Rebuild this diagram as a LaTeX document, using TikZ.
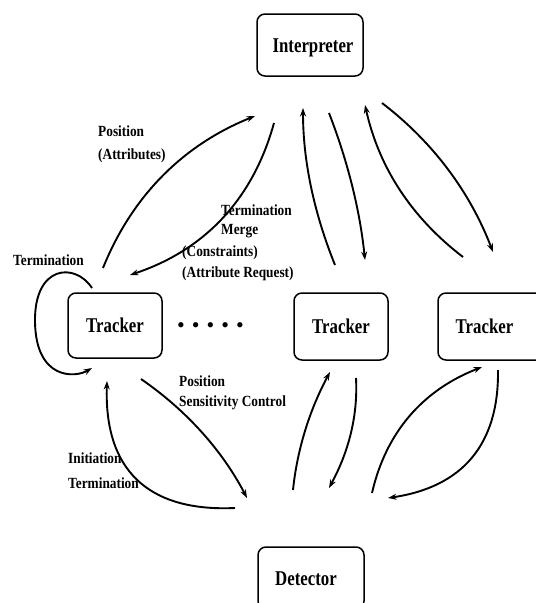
\documentclass[tikz,border=0pt]{standalone}
\usepackage{fontspec}
\setmainfont{Liberation Serif}
\newfontfamily\boxfont[FakeStretch=0.8]{Liberation Serif}
\newfontfamily\lblfont[FakeStretch=0.86]{Liberation Serif}
\usetikzlibrary{arrows.meta}
\begin{document}
\begin{tikzpicture}[x=1pt,y=-1pt,
  box/.style={draw, line width=1.5pt, rounded corners=8pt, inner sep=0pt,
    font=\boxfont\bfseries\fontsize{21}{24}\selectfont, text height=14pt, text depth=0pt},
  lbl/.style={font=\lblfont\bfseries\fontsize{15.5}{21}\selectfont, inner sep=0pt, anchor=base west},
  flow/.style={line width=1.9pt, -{Stealth[length=8.5pt,width=6pt]}},
]
\useasboundingbox (0,0) rectangle (536,603);
\clip (0,0) rectangle (536,603);

% boxes
\node[box, minimum width=106pt, minimum height=62pt] (interp) at (310,45) {\hspace*{6pt}Interpreter};
\node[box, minimum width=94pt, minimum height=65pt] (trk1) at (115,325.5) {Tracker};
\node[box, minimum width=94pt, minimum height=67pt] (trk2) at (341,326.5) {Tracker};
\node[box, minimum width=107pt, minimum height=67pt] (trk3) at (491.5,326.5) {Tracker\hspace*{14pt}};
\node[box, minimum width=106pt, minimum height=62pt] (det) at (311,578) {Detector\hspace*{10pt}};
\node[font=\fontsize{22}{24}\selectfont, inner sep=0pt] (dots) at (210.5,328)
  {•\hspace{7pt}•\hspace{7pt}•\hspace{7pt}•\hspace{7pt}•};

% connector end points
\coordinate (s1) at (103,268);  \coordinate (e1) at (255,116);
\coordinate (s2) at (274,123);  \coordinate (e2) at (130,275);
\coordinate (s3) at (335,265);  \coordinate (e3) at (303,108);
\coordinate (s4) at (329,113);  \coordinate (e4) at (365,260);
\coordinate (s5) at (463,257);  \coordinate (e5) at (365,105);
\coordinate (s6) at (382,103);  \coordinate (e6) at (493,252);
\coordinate (s0) at (92,288);   \coordinate (m0) at (35,322);  \coordinate (e0) at (92,368);
\coordinate (s7) at (235,508);  \coordinate (e7) at (107,381);
\coordinate (s8) at (141,379);  \coordinate (e8) at (247,498);
\coordinate (s9) at (293,490);  \coordinate (e9) at (330,372);
\coordinate (s10) at (356,378); \coordinate (e10) at (329,488);
\coordinate (s11) at (372,493); \coordinate (e11) at (482,367);
\coordinate (s12) at (498,370); \coordinate (e12) at (388,498);

% tracker <-> interpreter
\draw[flow] (s1) .. controls (132,196) and (183,145) .. (e1);
\draw[flow] (s2) .. controls (253,199) and (205,250) .. (e2);
\draw[flow] (s3) .. controls (314,213) and (303,161) .. (e3);
\draw[flow] (s4) .. controls (348,162) and (360,211) .. (e4);
\draw[flow] (s5) .. controls (412,218) and (379,168) .. (e5);
\draw[flow] (s6) .. controls (433,142) and (470,192) .. (e6);
% self loop
\draw[flow] (s0) .. controls (75,262) and (34,265) .. (m0) .. controls (36,380) and (75,378) .. (e0);
% tracker <-> detector
\draw[flow] (s7) .. controls (147,512) and (104,469) .. (e7);
\draw[flow] (s8) .. controls (186,410) and (222,450) .. (e8);
\draw[flow] (s9) .. controls (297,451) and (309,411) .. (e9);
\draw[flow] (s10) .. controls (358,415) and (349,451) .. (e10);
\draw[flow] (s11) .. controls (386,432) and (423,390) .. (e11);
\draw[flow] (s12) .. controls (499,445) and (462,487) .. (e12);

% labels
\node[lbl] (l1a) at (98,136) {Position};
\node[lbl] (l1b) at (98,159) {(Attributes)};
\node[lbl] (l2a) at (221,215) {Termination};
\node[lbl] (l2b) at (221,234) {Merge};
\node[lbl] (l2c) at (182,256.5) {(Constraints)};
\node[lbl] (l2d) at (182,277.5) {(Attribute Request)};
\node[lbl] (l0) at (13,265) {Termination};
\node[lbl] (l8a) at (179,386) {Position};
\node[lbl] (l8b) at (179,406) {Sensitivity Control};
\node[lbl] (l7a) at (68,463) {Initiation};
\node[lbl] (l7b) at (68,488) {Termination};
\end{tikzpicture}
\end{document}
